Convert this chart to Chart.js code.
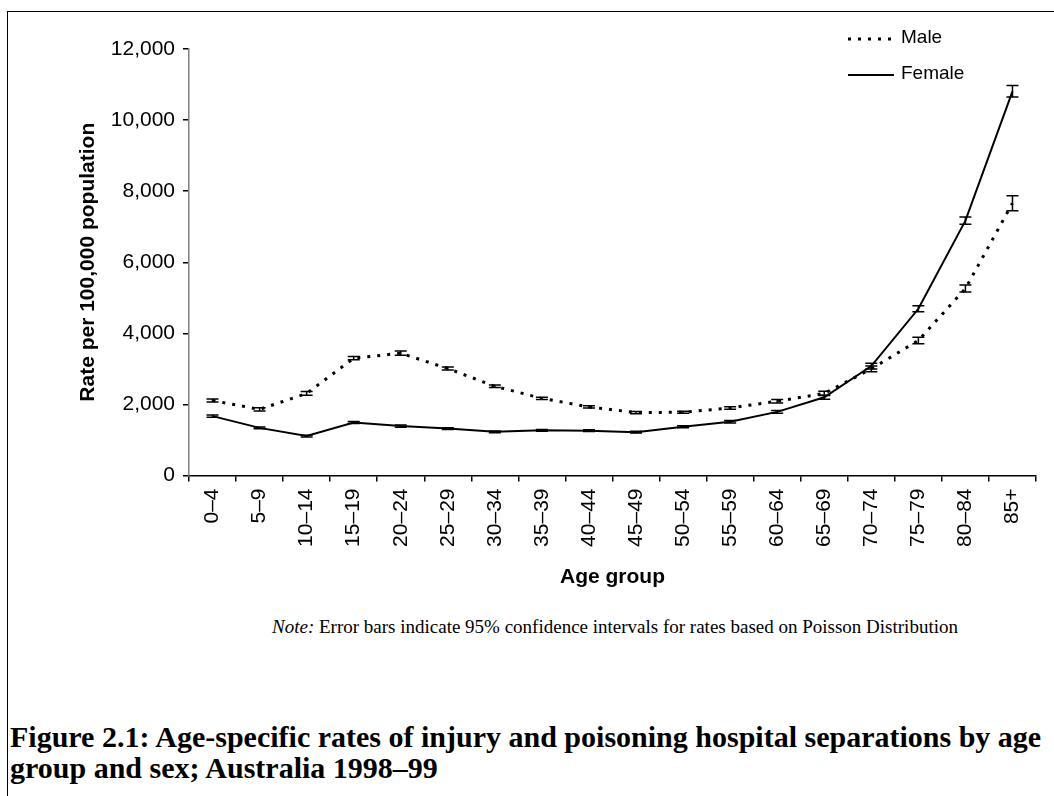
<!DOCTYPE html>
<html>
<head>
<meta charset="utf-8">
<script src="https://cdn.jsdelivr.net/npm/chart.js@4.4.1/dist/chart.umd.min.js"></script>
<style>
  html, body { margin: 0; padding: 0; background: #fff; }
  body { width: 1054px; height: 796px; position: relative; overflow: hidden; }
  #frame { position: absolute; left: 7px; top: 10.5px; width: 1060px; height: 800px;
           border-left: 1.5px solid #000; border-top: 1.5px solid #000; }
  #chart { position: absolute; left: 0; top: 0; }
  #note { position: absolute; left: 272px; top: 616px; font-family: "Liberation Serif", serif;
          font-size: 19px; color: #000; white-space: nowrap; }
  #title { position: absolute; left: 10px; top: 721px; font-family: "Liberation Serif", serif;
           font-weight: bold; font-size: 30px; line-height: 31px; color: #000; white-space: nowrap; }
</style>
</head>
<body>
<div id="frame"></div>
<canvas id="chart" width="1054" height="600"></canvas>
<div id="note"><i>Note:</i> Error bars indicate 95% confidence intervals for rates based on Poisson Distribution</div>
<div id="title">Figure 2.1: Age-specific rates of injury and poisoning hospital separations by age<br>group and sex; Australia 1998–99</div>
<script>
// Age groups and rates per 100,000 population
const ageGroups = ['0–4', '5–9', '10–14', '15–19', '20–24', '25–29', '30–34', '35–39', '40–44',
                   '45–49', '50–54', '55–59', '60–64', '65–69', '70–74', '75–79', '80–84', '85+'];
const maleRate   = [2110, 1860, 2310, 3300, 3440, 3010, 2510, 2170, 1930, 1770, 1780, 1900, 2090, 2310, 3000, 3800, 5260, 7660];
const femaleRate = [1670, 1340, 1110, 1490, 1390, 1320, 1230, 1270, 1260, 1220, 1370, 1510, 1790, 2200, 3080, 4690, 7170, 10810];
// half width of the 95% confidence interval
const maleCI   = [40, 45, 55, 45, 60, 45, 35, 30, 30, 30, 30, 35, 50, 60, 80, 90, 100, 210];
const femaleCI = [30, 25, 25, 30, 30, 25, 25, 25, 25, 25, 30, 35, 40, 55, 80, 85, 100, 160];
const yTicks = [0, 2000, 4000, 6000, 8000, 10000, 12000];

// error bars drawn through the y scale
const errorBars = {
    id: 'errorBars',
    afterDatasetsDraw(chart) {
        const ctx = chart.ctx;
        const y = chart.scales.y;
        ctx.save();
        ctx.strokeStyle = '#000';
        ctx.lineWidth = 1.5;
        chart.data.datasets.forEach((ds, i) => {
            const meta = chart.getDatasetMeta(i);
            meta.data.forEach((pt, j) => {
                const hi = y.getPixelForValue(ds.data[j] + ds.ci[j]);
                const lo = y.getPixelForValue(ds.data[j] - ds.ci[j]);
                ctx.beginPath();
                ctx.moveTo(pt.x, hi); ctx.lineTo(pt.x, lo);
                ctx.moveTo(pt.x - 6, hi); ctx.lineTo(pt.x + 6, hi);
                ctx.moveTo(pt.x - 6, lo); ctx.lineTo(pt.x + 6, lo);
                ctx.stroke();
            });
        });
        ctx.restore();
    }
};

// legend in the top right corner, Excel style
const cornerLegend = {
    id: 'cornerLegend',
    afterDraw(chart) {
        const ctx = chart.ctx;
        ctx.save();
        ctx.strokeStyle = '#000';
        ctx.fillStyle = '#000';
        ctx.font = '19px "Liberation Sans", Arial, sans-serif';
        ctx.textBaseline = 'middle';
        chart.data.datasets.forEach((ds, i) => {
            const ly = 39 + i * 36;
            ctx.lineWidth = ds.borderWidth;
            ctx.setLineDash(ds.borderDash || []);
            ctx.beginPath();
            ctx.moveTo(848, ly); ctx.lineTo(894, ly);
            ctx.stroke();
            ctx.setLineDash([]);
            ctx.fillText(ds.label, 901, ly - 1);
        });
        ctx.restore();
    }
};

const ctx = document.getElementById('chart').getContext('2d');
const chart = new Chart(ctx, {
    type: 'line',
    data: {
        labels: ageGroups,
        datasets: [{
            label: 'Male',
            data: maleRate,
            ci: maleCI,
            borderColor: '#000',
            borderWidth: 3,
            borderDash: [3, 7],
            pointRadius: 0,
            tension: 0,
            fill: false
        }, {
            label: 'Female',
            data: femaleRate,
            ci: femaleCI,
            borderColor: '#000',
            borderWidth: 2,
            pointRadius: 0,
            tension: 0,
            fill: false
        }]
    },
    options: {
        responsive: false,
        animation: false,
        layout: { padding: { top: 49, right: 18, left: 0, bottom: 0 } },
        plugins: { legend: { display: false }, tooltip: { enabled: false } },
        scales: {
            x: {
                offset: true,
                grid: { offset: true, drawOnChartArea: false, drawTicks: true, tickLength: 6, color: '#000', lineWidth: 1.5 },
                border: { color: '#000', width: 1.5 },
                ticks: { minRotation: 90, maxRotation: 90, padding: 7, color: '#000',
                         font: { family: '"Liberation Sans", Arial, sans-serif', size: 21 } },
                title: { display: true, text: 'Age group', color: '#000', padding: { top: 0, bottom: 10 },
                         font: { family: '"Liberation Sans", Arial, sans-serif', size: 21, weight: 'bold' } },
                afterFit(scale) { scale.height = 124.5; }
            },
            y: {
                min: 0,
                max: 12000,
                afterBuildTicks(scale) { scale.ticks = yTicks.map(v => ({ value: v })); },
                grid: { drawOnChartArea: false, drawTicks: true, tickLength: 6, color: '#000', lineWidth: 1.5 },
                border: { color: '#808080', width: 1.5 },
                ticks: { padding: 8, color: '#000',
                         font: { family: '"Liberation Sans", Arial, sans-serif', size: 21 } },
                title: { display: true, text: 'Rate per 100,000 population', color: '#000', padding: { top: 76, bottom: 0 },
                         font: { family: '"Liberation Sans", Arial, sans-serif', size: 21, weight: 'bold' } },
                afterFit(scale) { scale.width = 189; }
            }
        }
    },
    plugins: [errorBars, cornerLegend]
});
</script>
</body>
</html>
